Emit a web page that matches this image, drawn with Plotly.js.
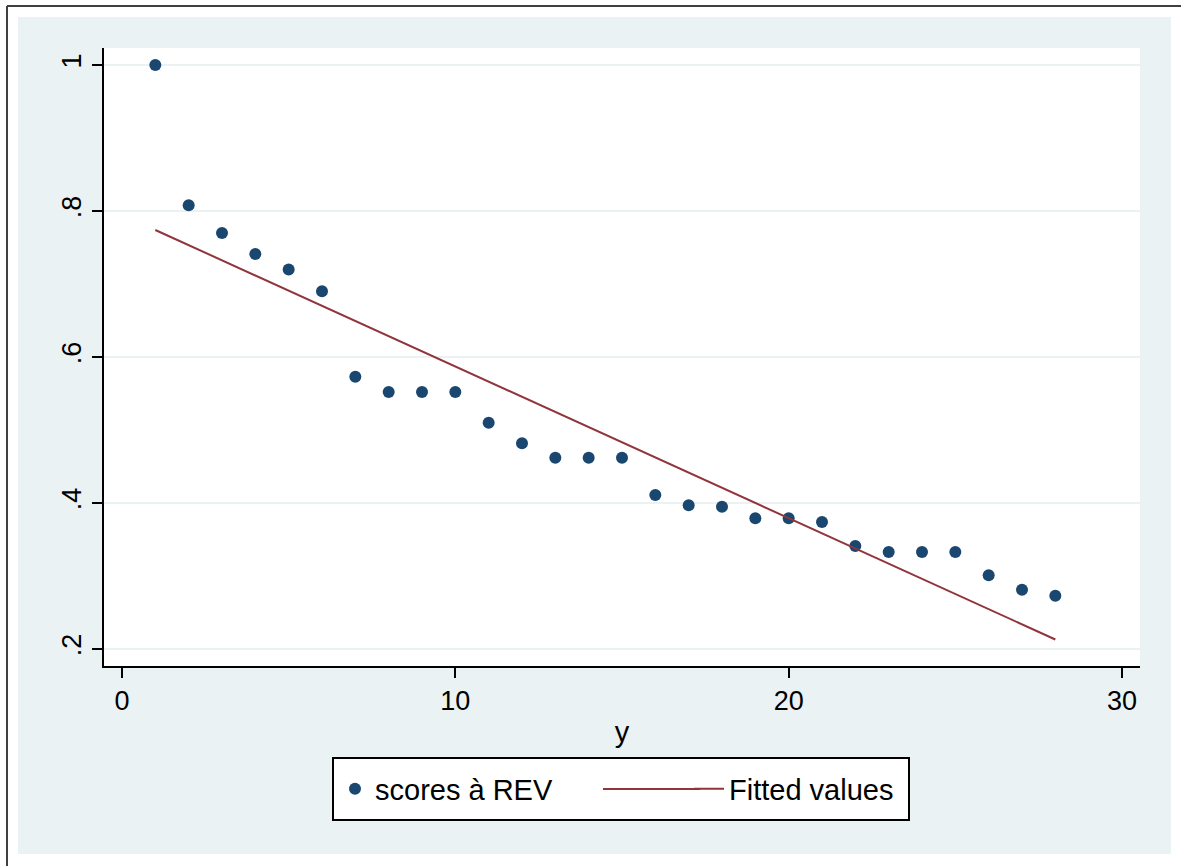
<!DOCTYPE html>
<html>
<head>
<meta charset="utf-8">
<script src="https://cdn.plot.ly/plotly-3.0.1.min.js"></script>
<style>html,body{margin:0;padding:0;background:#fff;}#chart{width:1181px;height:866px;}</style>
</head>
<body>
<div id="chart"></div>
<script>
// Data
const xValues = [1,2,3,4,5,6,7,8,9,10,11,12,13,14,15,16,17,18,19,20,21,22,23,24,25,26,27,28];
const scores = [1.000,0.808,0.770,0.741,0.720,0.690,0.573,0.552,0.552,0.552,0.510,0.482,0.462,0.462,0.462,0.411,0.397,0.395,0.379,0.379,0.374,0.341,0.333,0.333,0.333,0.301,0.281,0.273];
const fitX = [1, 28];
const fitY = [0.774, 0.213];
const xTicks = [0, 10, 20, 30];
const xTickText = ['0', '10', '20', '30'];
const yTicks = [0.2, 0.4, 0.6, 0.8, 1.0];
const yTickText = ['.2', '.4', '.6', '.8', '1'];
const seriesNames = ['scores à REV', 'Fitted values'];
const xTitle = 'y';

// plot area geometry (pixels)
const W = 1181, H = 866;
const L = 104, R = 1140, T = 48, B = 666;
const px = v => (v - L) / (R - L);
const py = v => (B - v) / (B - T);

const font = 'Liberation Sans, Arial, sans-serif';
const fitColor = '#90353b';

const traces = [
  {
    x: xValues, y: scores, type: 'scatter', mode: 'markers', name: seriesNames[0],
    marker: {color: '#1a476f', size: 12, line: {width: 0}}
  },
  {
    x: fitX, y: fitY, type: 'scatter', mode: 'lines', name: seriesNames[1],
    line: {color: fitColor, width: 2}
  }
];

// legend box (pixels)
const LG = {x0: 333, x1: 909, y0: 758, y1: 820};

const layout = {
  width: W, height: H,
  margin: {l: L, r: W - R, t: T, b: H - B, pad: 0},
  paper_bgcolor: '#ffffff',
  plot_bgcolor: '#ffffff',
  font: {family: font, size: 27, color: '#000'},
  showlegend: true,
  xaxis: {
    range: [-0.54, 30.54],
    tickvals: xTicks, ticktext: xTickText,
    ticks: 'outside', ticklen: 10, tickwidth: 2, tickcolor: '#000',
    showline: true, linecolor: '#000', linewidth: 2,
    showgrid: false, zeroline: false,
    tickfont: {family: font, size: 27, color: '#000'},
    title: {text: xTitle, font: {family: font, size: 29, color: '#000'}, standoff: 6}
  },
  yaxis: {
    range: [0.1767, 1.0233],
    tickvals: yTicks, ticktext: yTickText,
    tickangle: -90,
    ticks: 'outside', ticklen: 10, tickwidth: 2, tickcolor: '#000',
    showline: true, linecolor: '#000', linewidth: 2,
    showgrid: true, gridcolor: '#eaf2f3', gridwidth: 2,
    zeroline: false,
    tickfont: {family: font, size: 27, color: '#000'}
  },
  legend: {
    orientation: 'h', x: px(335), xanchor: 'left', y: py((LG.y0 + LG.y1) / 2), yanchor: 'middle',
    bgcolor: 'rgba(0,0,0,0)', borderwidth: 0,
    font: {family: font, size: 29, color: '#000'},
    entrywidth: 309, traceorder: 'normal'
  },
  shapes: [
    {type: 'rect', xref: 'paper', yref: 'paper', x0: px(18), x1: px(1171), y0: py(854), y1: py(17),
     fillcolor: '#eaf2f3', line: {width: 0}, layer: 'below'},
    {type: 'rect', xref: 'paper', yref: 'paper', x0: 0, x1: 1, y0: 0, y1: 1,
     fillcolor: '#ffffff', line: {width: 0}, layer: 'below'},
    {type: 'line', xref: 'paper', yref: 'paper', x0: px(7), x1: px(1181), y0: py(6), y1: py(6),
     line: {color: '#404040', width: 2}, layer: 'above'},
    {type: 'line', xref: 'paper', yref: 'paper', x0: px(7), x1: px(7), y0: py(6), y1: py(866),
     line: {color: '#404040', width: 2}, layer: 'above'},
    {type: 'rect', xref: 'paper', yref: 'paper', x0: px(LG.x0), x1: px(LG.x1), y0: py(LG.y1), y1: py(LG.y0),
     fillcolor: '#ffffff', line: {color: '#000', width: 2}, layer: 'above'},
    {type: 'line', xref: 'paper', yref: 'paper', x0: px(603), x1: px(700),
     y0: py((LG.y0 + LG.y1) / 2), y1: py((LG.y0 + LG.y1) / 2),
     line: {color: fitColor, width: 2}, layer: 'above'}
  ]
};

Plotly.newPlot('chart', traces, layout, {displayModeBar: false, staticPlot: true});
</script>
</body>
</html>
